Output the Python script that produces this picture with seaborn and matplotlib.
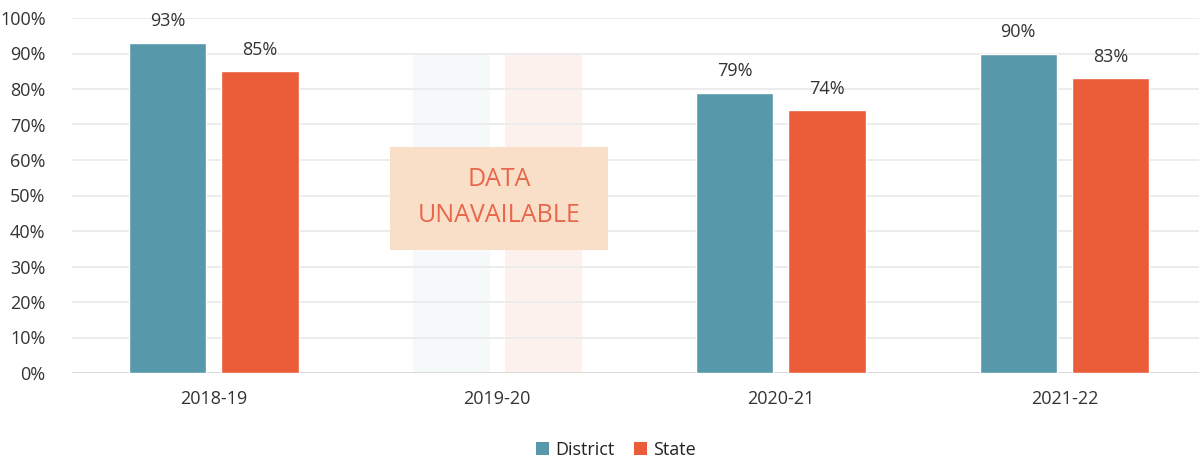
import numpy as np
import pandas as pd
import matplotlib
matplotlib.use("Agg")
import matplotlib.pyplot as plt
import seaborn as sns
from matplotlib.patches import Patch, Rectangle

years = ["2018-19", "2019-20", "2020-21", "2021-22"]
series = ["District", "State"]
district = [93, np.nan, 79, 90]
state = [85, np.nan, 74, 83]
# placeholder height for the year with no data
placeholder_district = [np.nan, 90, np.nan, np.nan]
placeholder_state = [np.nan, 90, np.nan, np.nan]
yticks = [0, 10, 20, 30, 40, 50, 60, 70, 80, 90, 100]

colors = {"District": "#5799ab", "State": "#eb5c38"}
ghost = {"District": "#f5f9fa", "State": "#fdf1ee"}

sns.set_theme(style="white")
plt.rcParams["font.family"] = ["Open Sans", "DejaVu Sans"]

df = pd.DataFrame({
    "year": years * 2,
    "series": ["District"] * 4 + ["State"] * 4,
    "value": district + state,
})
gdf = pd.DataFrame({
    "year": years * 2,
    "series": ["District"] * 4 + ["State"] * 4,
    "value": placeholder_district + placeholder_state,
})

fig = plt.figure(figsize=(11.99, 4.62), dpi=100)
ax = fig.add_axes([72 / 1199, 89 / 462, (1199 - 72) / 1199, (373 - 18) / 462])

for y in yticks:
    ax.axhline(y, color="#ececec" if y else "#d9d9d9", lw=1.4, zorder=0.5)

sns.barplot(data=gdf, x="year", y="value", hue="series", order=years,
            hue_order=series, palette=ghost, width=0.65, gap=0.16,
            legend=False, ax=ax, zorder=0.2, saturation=1, linewidth=0)
sns.barplot(data=df, x="year", y="value", hue="series", order=years,
            hue_order=series, palette=colors, width=0.65, gap=0.16,
            legend=False, ax=ax, zorder=2, saturation=1)

# value labels above the real bars
real = ax.containers[2:]
for cont in real:
    ax.bar_label(cont, labels=[f"{v:.0f}%" if not np.isnan(v) else "" for v in cont.datavalues],
                 padding=9, fontsize=13, color="#333333")

ax.set_xlim(-0.5, 3.475)
ax.set_ylim(0, 100)
ax.set_yticks(yticks)
ax.set_yticklabels([f"{t}%" for t in yticks], fontsize=13, color="#333333")
ax.tick_params(axis="y", length=0, pad=19)
ax.tick_params(axis="x", length=0, pad=12, labelsize=13, labelcolor="#333333")
ax.set_xlabel("")
ax.set_ylabel("")
for s in ax.spines.values():
    s.set_visible(False)

# "data unavailable" banner over the missing year
ax.add_patch(Rectangle((0.622, 34.6), 1.391 - 0.622, 63.7 - 34.6,
                       facecolor="#f9dfc8", edgecolor="none", zorder=3))
ax.text(1.006, 49.5, "DATA\nUNAVAILABLE", ha="center", va="center",
        fontsize=18, color="#e8664a", linespacing=1.6, zorder=4)

handles = [Patch(facecolor=colors[s], edgecolor="none") for s in series]
fig.legend(handles, series, loc="center", bbox_to_anchor=(616 / 1199, 1 - 450 / 462),
           ncol=2, frameon=False, fontsize=13, handlelength=0.7, handleheight=0.7,
           handletextpad=0.35, columnspacing=1.1, labelcolor="#222222")

fig.savefig("out.png", dpi=100)
